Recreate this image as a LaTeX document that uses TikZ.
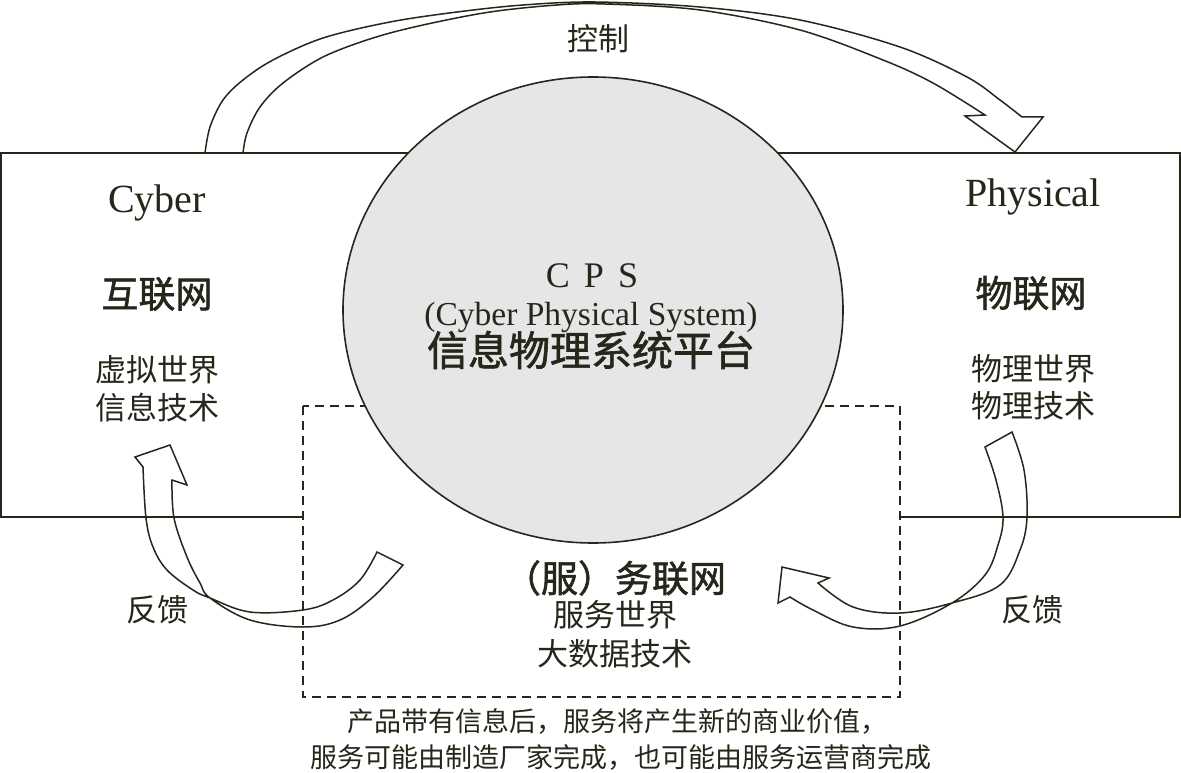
\documentclass[tikz,border=0pt]{standalone}
\usepackage{fontspec}
\setmainfont{Liberation Serif}
\newfontfamily\cjk{Noto Sans CJK SC}
\newfontfamily\cjkm[FakeBold=1.5]{Noto Sans CJK SC}
\definecolor{ink}{HTML}{26261A}
\definecolor{cpsgray}{HTML}{E6E6E6}
\tikzset{
  frame/.style={draw=ink, line width=1.6pt},
  dashbox/.style={draw=ink, line width=1.5pt, fill=white, dash pattern=on 9pt off 6pt},
  cpsdisk/.style={draw=ink, line width=1.6pt, fill=cpsgray},
  ribbon/.style={draw=ink, line width=1.5pt, line join=miter},
  lat/.style={text=ink, inner sep=0pt, font=\fontsize{40}{44}\selectfont, anchor=base},
  cjkhead/.style={text=ink, inner sep=0pt, font=\cjkm\fontsize{37}{40}\selectfont},
  cjktext/.style={text=ink, inner sep=0pt, font=\cjk\fontsize{31}{36}\selectfont},
  cjknote/.style={text=ink, inner sep=0pt, font=\cjk\fontsize{27}{32}\selectfont},
}
\begin{document}
\begin{tikzpicture}[x=1pt,y=-1pt]
\useasboundingbox (0,0) rectangle (1181,773);
% outer frame
\draw[frame] (1,153) rectangle (1180,517);
% service box
\draw[dashbox] (303,406) rectangle (900,697);
% CPS disk
\draw[cpsdisk] (593,310) ellipse [x radius=250, y radius=233];

% control arrow (top)
\draw[ribbon] plot[smooth,tension=0.55] coordinates {(205,153) (210,127) (223,100) (243,80) (273,60) (323,38) (390,22) (457,12) (523,5) (595,2) (700,7) (800,20) (900,47) (967,77) (1000,100) (1022,117)}
  -- (1043,117) -- (1015,152) -- (965,116)
  -- plot[smooth,tension=0.55] coordinates {(985,115) (933,83) (883,60) (800,30) (700,10) (605,4) (557,5) (490,12) (423,25) (373,38) (323,57) (283,83) (260,107) (247,133) (243,153)};

% left feedback arrow
\draw[ribbon] plot[smooth,tension=0.6] coordinates {(172,480) (174,518) (187,557) (200,583) (210,598) (250,620) (303,627) (340,620) (373,597) (403,565)}
  -- plot[smooth,tension=0.6] coordinates {(377,552) (360,580) (333,600) (303,610) (250,612) (210,598) (193,590) (167,570) (153,547) (146,518) (143,467)}
  -- (135,457) -- (170,445) -- (187,485) -- cycle;

% right feedback arrow
\draw[ribbon] plot[smooth,tension=0.6] coordinates {(985,447) (996,480) (1003,517) (998,545) (985,575) (952,603) (900,626) (853,627) (813,610) (790,597)}
  -- (778,603) -- (782,567) -- (829,578)
  -- plot[smooth,tension=0.6] coordinates {(818,583) (853,607) (900,613) (952,603) (1000,585) (1020,550) (1027,517) (1024,470) (1012,432)}
  -- cycle;

% texts
\node[cjktext] (ctrl) at (598,39) {控制};
\node[lat] (cyber) at (157,212) {Cyber};
\node[lat] (phys) at (1033,206) {Physical};
\node[cjkhead] (inet) at (157,294) {互联网};
\node[cjkhead] (iot) at (1031,293) {物联网};
\node[cjktext] (cy1) at (157,370) {虚拟世界};
\node[cjktext] (cy2) at (157,408) {信息技术};
\node[cjktext] (ph1) at (1033,369) {物理世界};
\node[cjktext] (ph2) at (1033,406) {物理技术};
\node[lat, font=\fontsize{36}{40}\selectfont] (cps) at (592,287) {C\hspace{0.39em}P\hspace{0.39em}S};
\node[lat, font=\fontsize{33.5}{38}\selectfont] (cpsen) at (591,325) {(Cyber Physical System)};
\node[cjkhead, font=\cjkm\fontsize{41}{44}\selectfont] (cpscn) at (591,350) {信息物理系统平台};
\node[cjkhead] (ios) at (615,578) {（服）务联网};
\node[cjktext] (sv1) at (615,615) {服务世界};
\node[cjktext] (sv2) at (615,654) {大数据技术};
\node[cjktext] (fbl) at (157,610) {反馈};
\node[cjktext] (fbr) at (1032,610) {反馈};
\node[cjknote] (n1) at (617,721) {产品带有信息后，服务将产生新的商业价值，};
\node[cjknote] (n2) at (621,757) {服务可能由制造厂家完成，也可能由服务运营商完成};
\end{tikzpicture}
\end{document}
